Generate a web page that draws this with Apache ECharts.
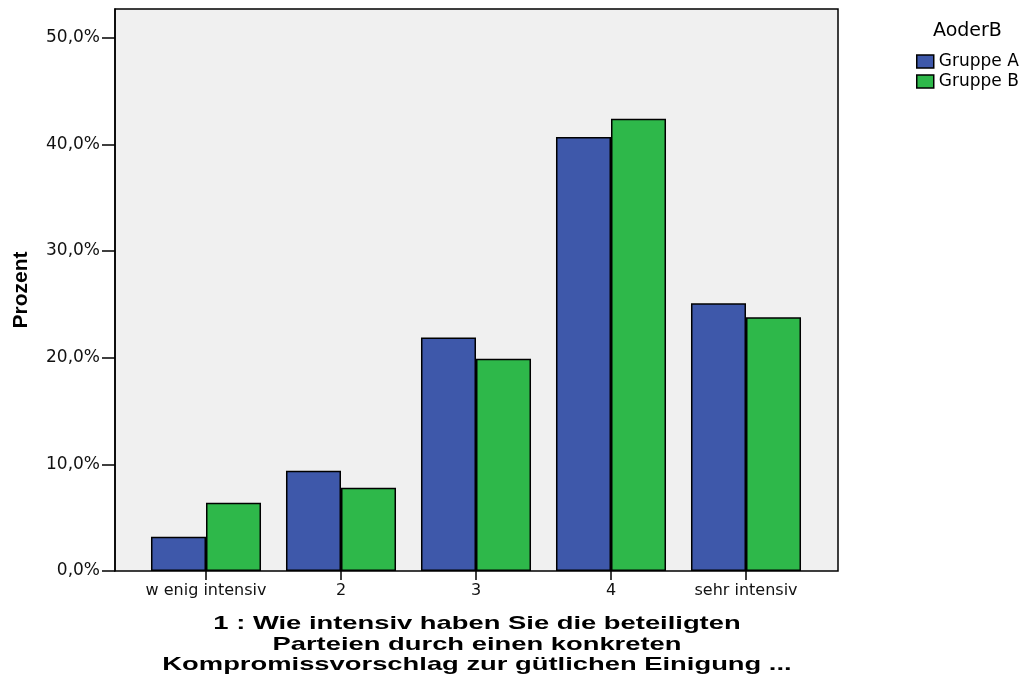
<!DOCTYPE html>
<html>
<head>
<meta charset="utf-8">
<script src="https://cdn.jsdelivr.net/npm/echarts@6/dist/echarts.min.js"></script>
<style>
  html, body { margin: 0; padding: 0; background: #fff; }
  #chart { width: 1032px; height: 681px; }
</style>
</head>
<body>
<div id="chart"></div>
<script>
  const categories = ["w enig intensiv", "2", "3", "4", "sehr intensiv"];
  const groupA = [3.2, 9.4, 21.9, 40.7, 25.1];
  const groupB = [6.4, 7.8, 19.9, 42.4, 23.8];
  const yTicks = [0, 10, 20, 30, 40, 50];
  const yMax = 52.7;
  const xTitle = "1 : Wie intensiv haben Sie die beteiligten\nParteien durch einen konkreten\nKompromissvorschlag zur gütlichen Einigung ...";

  const wide = "'DejaVu Sans', Verdana, sans-serif";
  const arial = "'Liberation Sans', Arial, sans-serif";
  const fmt = (v) => `${v.toFixed(1).replace(".", ",")}%`;

  const chart = echarts.init(document.getElementById("chart"));
  chart.setOption({
    animation: false,
    backgroundColor: "#ffffff",
    title: {
      text: "AoderB", left: 928, top: 17,
      textStyle: { fontFamily: wide, fontSize: 19, fontWeight: "normal", color: "#000" }
    },
    legend: {
      orient: "vertical", left: 911, top: 48, itemWidth: 17, itemHeight: 13, itemGap: 3,
      icon: "rect",
      itemStyle: { borderColor: "#000", borderWidth: 1.5 },
      textStyle: { fontFamily: wide, fontSize: 17, lineHeight: 17, color: "#000" },
      data: ["Gruppe A", "Gruppe B"]
    },
    // SPSS-style stretched axis title
    graphic: [{
      type: "text", x: 477, y: 614, scaleX: 1.44, silent: true,
      style: {
        text: xTitle, align: "center", verticalAlign: "top",
        font: `bold 19px ${arial}`, lineHeight: 20.5, fill: "#000"
      }
    }],
    grid: [
      { left: 115, right: 194, top: 9, bottom: 110, outerBoundsMode: "none", show: true, backgroundColor: "#f0f0f0", borderColor: "#000", borderWidth: 1.5 },
      { left: 138.5, right: 218.5, top: 9, bottom: 110, outerBoundsMode: "none" }
    ],
    xAxis: [
      { gridIndex: 0, type: "value", min: 0, max: 1, show: false },
      {
        gridIndex: 1, type: "category", data: categories,
        axisLine: { show: false },
        axisTick: { show: true, alignWithLabel: true, length: 9, lineStyle: { color: "#000", width: 1.5 } },
        axisLabel: { fontFamily: wide, fontSize: 16, color: "#111", margin: 12, interval: 0 }
      }
    ],
    yAxis: [
      {
        gridIndex: 0, type: "value", min: 0, max: yMax,
        splitLine: { show: false },
        axisLine: { show: true, lineStyle: { color: "#000", width: 1.5 } },
        axisTick: { show: true, length: 13, customValues: yTicks, lineStyle: { color: "#000", width: 1.5 } },
        axisLabel: { fontFamily: wide, fontSize: 17, color: "#111", margin: 15, customValues: yTicks, formatter: fmt },
        name: "Prozent", nameLocation: "middle", nameGap: 83,
        nameTextStyle: { fontFamily: arial, fontSize: 21, fontWeight: "bold", color: "#000" }
      },
      { gridIndex: 1, type: "value", min: 0, max: yMax, show: false, splitLine: { show: false } }
    ],
    series: [
      {
        name: "Gruppe A", type: "bar", xAxisIndex: 1, yAxisIndex: 1, data: groupA,
        barGap: "0%", barCategoryGap: "18.5%",
        itemStyle: { color: "#3e58aa", borderColor: "#000", borderWidth: 1.5 }
      },
      {
        name: "Gruppe B", type: "bar", xAxisIndex: 1, yAxisIndex: 1, data: groupB,
        barGap: "0%", barCategoryGap: "18.5%",
        itemStyle: { color: "#2eb84a", borderColor: "#000", borderWidth: 1.5 }
      }
    ]
  });
</script>
</body>
</html>
